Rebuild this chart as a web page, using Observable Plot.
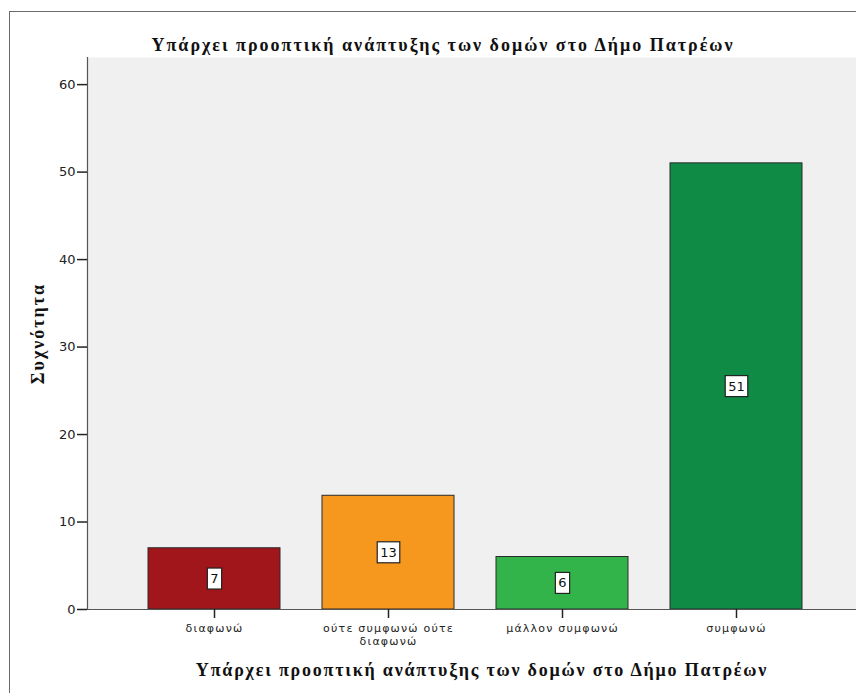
<!DOCTYPE html>
<html><head><meta charset="utf-8">
<script src="https://cdn.jsdelivr.net/npm/d3@7"></script>
<script src="https://cdn.jsdelivr.net/npm/@observablehq/plot@0.6"></script>
<style>
body{margin:0;overflow:hidden;background:#fff}
#wrap{position:relative;width:856px;height:693px;overflow:hidden}
#border{position:absolute;left:9px;top:11px;width:900px;height:800px;border:1px solid #6b6b6b;pointer-events:none}
svg{position:absolute;left:0;top:0}
</style></head><body><div id="wrap"><div id="border"></div></div>
<script>
const categories = ["διαφωνώ", "ούτε συμφωνώ ούτε διαφωνώ", "μάλλον συμφωνώ", "συμφωνώ"];
const tickLabels = ["διαφωνώ", "ούτε συμφωνώ ούτε\nδιαφωνώ", "μάλλον συμφωνώ", "συμφωνώ"];
const counts = [7, 13, 6, 51];
const colors = ["#a0161a", "#f7981e", "#33b44a", "#0f8b45"];
const yTicks = [0, 10, 20, 30, 40, 50, 60];
const chartTitle = "Υπάρχει προοπτική ανάπτυξης των δομών στο Δήμο Πατρέων";
const xTitle = "Υπάρχει προοπτική ανάπτυξης των δομών στο Δήμο Πατρέων";
const yTitle = "Συχνότητα";

const data = categories.map((c, i) => ({category: c, count: counts[i]}));
const serif = "'Liberation Serif', 'DejaVu Serif', serif";

const plot = Plot.plot({
  width: 856, height: 693,
  marginTop: 57, marginLeft: 87, marginRight: 0, marginBottom: 84,
  style: {fontFamily: "'DejaVu Sans', sans-serif", fontSize: "12px", background: "transparent", color: "#222", overflow: "visible"},
  x: {domain: categories, range: [87, 862], paddingInner: 0.243, paddingOuter: 0.344, label: null},
  y: {domain: [0, 63.1], label: null},
  color: {domain: categories, range: colors},
  marks: [
    Plot.frame({fill: "#f0f0f0", stroke: null}),
    Plot.barY(data, {x: "category", y: "count", fill: "category", stroke: "#2a2a2a", strokeWidth: 1}),
    Plot.ruleY([0], {stroke: "#555", strokeWidth: 1.2}),
    Plot.frame({anchor: "left", stroke: "#555", strokeWidth: 1.2}),
    Plot.axisX({ticks: categories, tickSize: 9, tickPadding: 5, stroke: "#222", strokeWidth: 1.5,
      tickFormat: d => tickLabels[categories.indexOf(d)], fontSize: 11, lineHeight: 1.15, label: null}),
    Plot.axisY({ticks: yTicks, tickSize: 10, tickPadding: 2, stroke: "#222", strokeWidth: 1.5, fontSize: 13, label: null}),
    Plot.text(data, {x: "category", y: d => d.count / 2, text: d => String(d.count), fontSize: 13, fill: "#111"}),
    Plot.text([chartTitle], {frameAnchor: "top", dx: -29, dy: -19, fontFamily: serif, fontWeight: "bold", fontSize: 18, fill: "#111"}),
    Plot.text([xTitle], {frameAnchor: "bottom", dx: 10, dy: 66, fontFamily: serif, fontWeight: "bold", fontSize: 18, fill: "#111"}),
    Plot.text([yTitle], {frameAnchor: "left", textAnchor: "middle", dx: -49, dy: 0, rotate: -90, fontFamily: serif, fontWeight: "bold", fontSize: 18, fill: "#111"})
  ]
});
document.getElementById("wrap").appendChild(plot);

// letter spacing for the titles and category labels
plot.querySelectorAll("text").forEach(t => {
  const s = t.textContent;
  if (s === chartTitle) t.style.letterSpacing = "2px";
  if (s === xTitle && t.getAttribute("dy") !== null) {}
});
const titleTexts = [...plot.querySelectorAll("text")].filter(t => t.textContent === chartTitle);
if (titleTexts[0]) titleTexts[0].style.letterSpacing = "2px";
if (titleTexts[1]) titleTexts[1].style.letterSpacing = "1.8px";
plot.querySelectorAll("text").forEach(t => { if (t.textContent === yTitle) t.style.letterSpacing = "2px"; });
plot.querySelectorAll('g[aria-label="x-axis tick label"] text').forEach(t => { t.style.letterSpacing = "1.2px"; });

// white boxes behind the value labels
plot.querySelectorAll('g[aria-label="text"] text').forEach(t => {
  if (!/^\d+$/.test(t.textContent)) return;
  const b = t.getBBox();
  const r = document.createElementNS("http://www.w3.org/2000/svg", "rect");
  r.setAttribute("x", b.x - 3);
  r.setAttribute("y", b.y - 3);
  r.setAttribute("width", b.width + 6);
  r.setAttribute("height", b.height + 6);
  if (t.getAttribute("transform")) r.setAttribute("transform", t.getAttribute("transform"));
  r.setAttribute("fill", "#fff");
  r.setAttribute("stroke", "#222");
  r.setAttribute("stroke-width", "1.2");
  t.parentNode.insertBefore(r, t);
});
</script>
</body></html>
